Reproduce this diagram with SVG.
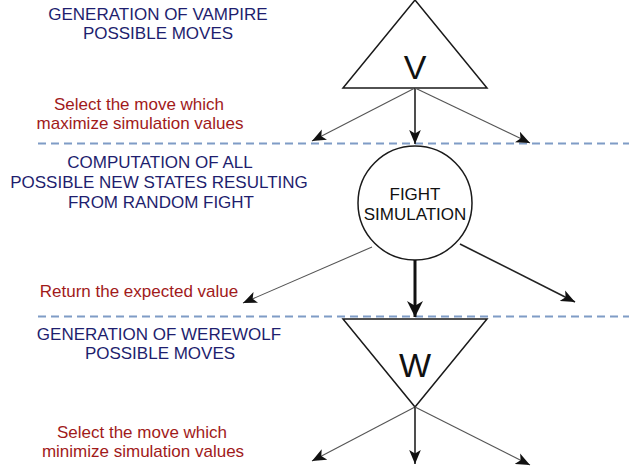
<svg xmlns="http://www.w3.org/2000/svg" width="629" height="472" viewBox="0 0 629 472">
<defs>
<style>
.blue{font-family:"Liberation Sans",Arial,sans-serif;font-size:17px;fill:#1e1e6e;text-anchor:middle}
.red{font-family:"Liberation Sans",Arial,sans-serif;font-size:17px;fill:#a11a1a;text-anchor:middle}
.node{fill:#ffffff;stroke:#1a1a1a;stroke-width:1.5}
.lbl{font-family:"Liberation Sans",Arial,sans-serif;fill:#111;text-anchor:middle}
.sep{stroke:#7f9cc6;stroke-width:2.2;stroke-dasharray:8 5;fill:none}
.thin{stroke:#555;stroke-width:1.1;fill:none}
.mid{stroke:#222;stroke-width:1.6;fill:none}
.thick{stroke:#111;stroke-width:3;fill:none}
</style>
<marker id="ah" markerUnits="userSpaceOnUse" markerWidth="14" markerHeight="12" viewBox="0 0 12 10" refX="12" refY="5" orient="auto">
<path d="M0,0 L12,5 L0,10 L3,5 Z" fill="#111"/>
</marker>
<marker id="ahb" markerUnits="userSpaceOnUse" markerWidth="16" markerHeight="16" viewBox="0 0 12 12" refX="12" refY="6" orient="auto">
<path d="M0,0 L12,6 L0,12 L3.5,6 Z" fill="#111"/>
</marker>
</defs>
<rect width="629" height="472" fill="#ffffff"/>
<g id="separators">
<line class="sep" x1="38" y1="143.5" x2="629" y2="143.5"/>
<line class="sep" x1="38" y1="316.5" x2="629" y2="316.5"/>
</g>
<g id="labels">
<text class="blue" x="158" y="20">GENERATION OF VAMPIRE</text>
<text class="blue" x="158" y="39">POSSIBLE MOVES</text>
<text class="red" x="139" y="110">Select the move which</text>
<text class="red" x="140" y="129">maximize simulation values</text>
<text class="blue" x="160" y="168">COMPUTATION OF ALL</text>
<text class="blue" x="159" y="188">POSSIBLE NEW STATES RESULTING</text>
<text class="blue" x="161" y="208">FROM RANDOM FIGHT</text>
<text class="red" x="139" y="297">Return the expected value</text>
<text class="blue" x="159" y="340">GENERATION OF WEREWOLF</text>
<text class="blue" x="160" y="359">POSSIBLE MOVES</text>
<text class="red" x="142" y="438">Select the move which</text>
<text class="red" x="143" y="457">minimize simulation values</text>
</g>
<g id="node-v">
<polygon class="node" points="415,0 487,88 343,88"/>
<text class="lbl" x="415" y="79" font-size="34">V</text>
</g>
<g id="node-fight">
<circle class="node" cx="415" cy="203" r="57"/>
<text class="lbl" x="415" y="200" font-size="17">FIGHT</text>
<text class="lbl" x="415" y="220" font-size="17">SIMULATION</text>
</g>
<g id="node-w">
<polygon class="node" points="343,319 487,319 415,407"/>
<text class="lbl" x="415" y="377" font-size="34">W</text>
</g>
<g id="connectors">
<line class="thin" x1="415" y1="88" x2="312" y2="141" marker-end="url(#ah)"/>
<line class="mid" x1="415" y1="88" x2="415" y2="144" marker-end="url(#ah)"/>
<line class="thin" x1="415" y1="88" x2="530" y2="143" marker-end="url(#ah)"/>
<line class="thin" x1="372" y1="247" x2="243" y2="303" marker-end="url(#ah)"/>
<line class="thick" x1="415" y1="260" x2="415" y2="317" marker-end="url(#ahb)"/>
<line class="mid" x1="460" y1="244" x2="575" y2="302" marker-end="url(#ah)"/>
<line class="thin" x1="415" y1="407" x2="312" y2="461" marker-end="url(#ah)"/>
<line class="mid" x1="415" y1="407" x2="415" y2="464" marker-end="url(#ah)"/>
<line class="thin" x1="415" y1="407" x2="530" y2="465" marker-end="url(#ah)"/>
</g>
</svg>
